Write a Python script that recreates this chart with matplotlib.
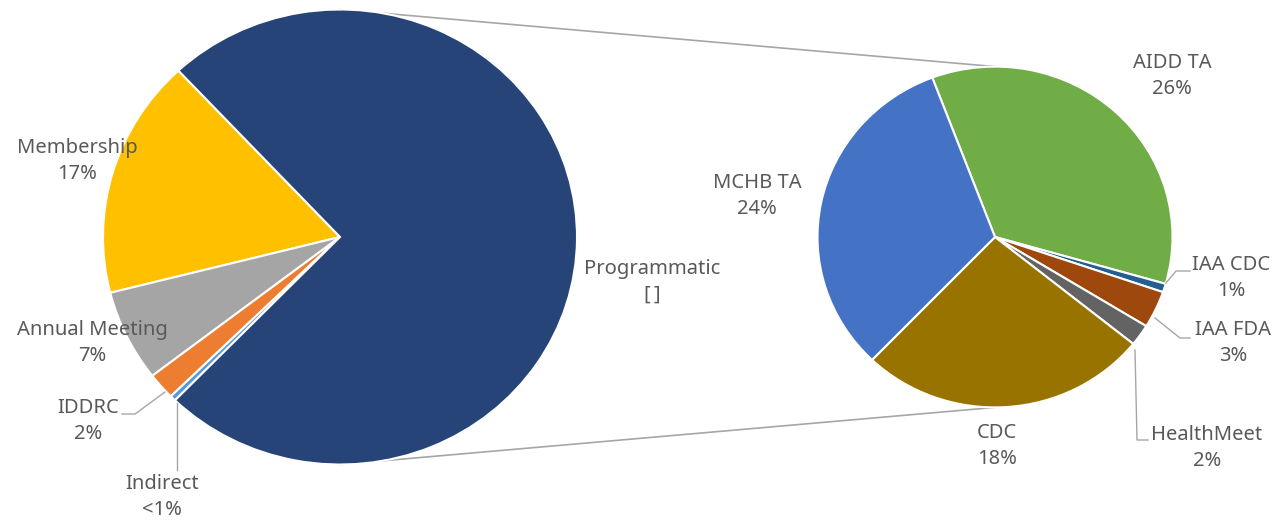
import matplotlib
matplotlib.use('Agg')
import matplotlib.pyplot as plt

plt.rcParams['font.family'] = ['Noto Sans', 'DejaVu Sans']

# main pie (percent of total budget)
main_names = ["Membership", "Annual Meeting", "IDDRC", "Indirect", "Programmatic"]
main_values = [17.0, 6.5, 1.9, 0.4, 74.2]
main_labels = ["17%", "7%", "2%", "<1%", "[\u2009]"]
main_colors = ["#FFC000", "#A5A5A5", "#ED7D31", "#5B9BD5", "#264478"]

# breakdown of Programmatic (percent of total budget)
sub_names = ["AIDD TA", "IAA CDC", "IAA FDA", "HealthMeet", "CDC", "MCHB TA"]
sub_values = [26.0, 0.6, 2.6, 1.5, 19.5, 23.7]
sub_labels = ["26%", "1%", "3%", "2%", "18%", "24%"]
sub_colors = ["#70AD47", "#255E91", "#9E480E", "#636363", "#997300", "#4472C4"]

W, H = 1283, 520
S = 0.96  # picture is slightly squashed vertically


def Y(py):
    return (H - py) / S


fig = plt.figure(figsize=(W / 100, H / 100), dpi=100)
ax = fig.add_axes([0, 0, 1, 1])

c1, r1 = (340, Y(237)), 237
c2, r2 = (995, Y(237)), 177.5

wp = dict(edgecolor="white", linewidth=1.5)
ax.pie(main_values, colors=main_colors, startangle=133, counterclock=True,
       center=c1, radius=r1, wedgeprops=wp, frame=True)
ax.pie(sub_values, colors=sub_colors, startangle=110.7, counterclock=False,
       center=c2, radius=r2, wedgeprops=wp, frame=True)

# series lines between the pies
line_kw = dict(color="#A6A6A6", linewidth=1.2, zorder=0)
ax.plot([c1[0], c2[0]], [c1[1] + r1, c2[1] + r2], **line_kw)
ax.plot([c1[0], c2[0]], [c1[1] - r1, c2[1] - r2], **line_kw)

ax.set_xlim(0, W)
ax.set_ylim(0, H / S)
ax.set_aspect('auto')
ax.axis('off')

txt = dict(fontsize=14.5, color="#595959", ha="center", va="center", linespacing=1.4)

main_pos = [(77, 161), (92, 343), (88, 421), (162, 497), (652, 282)]
for name, lab, (px, py) in zip(main_names, main_labels, main_pos):
    ax.text(px, Y(py), name + "\n" + lab, **txt)

sub_pos = [(1172, 76), (1231, 278), (1233, 343), (1207, 448), (997, 446), (757, 196)]
for name, lab, (px, py) in zip(sub_names, sub_labels, sub_pos):
    ax.text(px, Y(py), name + "\n" + lab, **txt)

# leader lines
lead_kw = dict(color="#A6A6A6", linewidth=1.0)
leaders = [
    [(165, 392), (135, 414), (122, 414)],
    [(177, 403), (177, 470)],
    [(1166, 283), (1176, 271), (1190, 271)],
    [(1155, 318), (1180, 338), (1190, 338)],
    [(1135, 350), (1137, 440), (1148, 440)],
]
for pts in leaders:
    ax.plot([p[0] for p in pts], [Y(p[1]) for p in pts], **lead_kw)

fig.savefig("out.png", dpi=100)
